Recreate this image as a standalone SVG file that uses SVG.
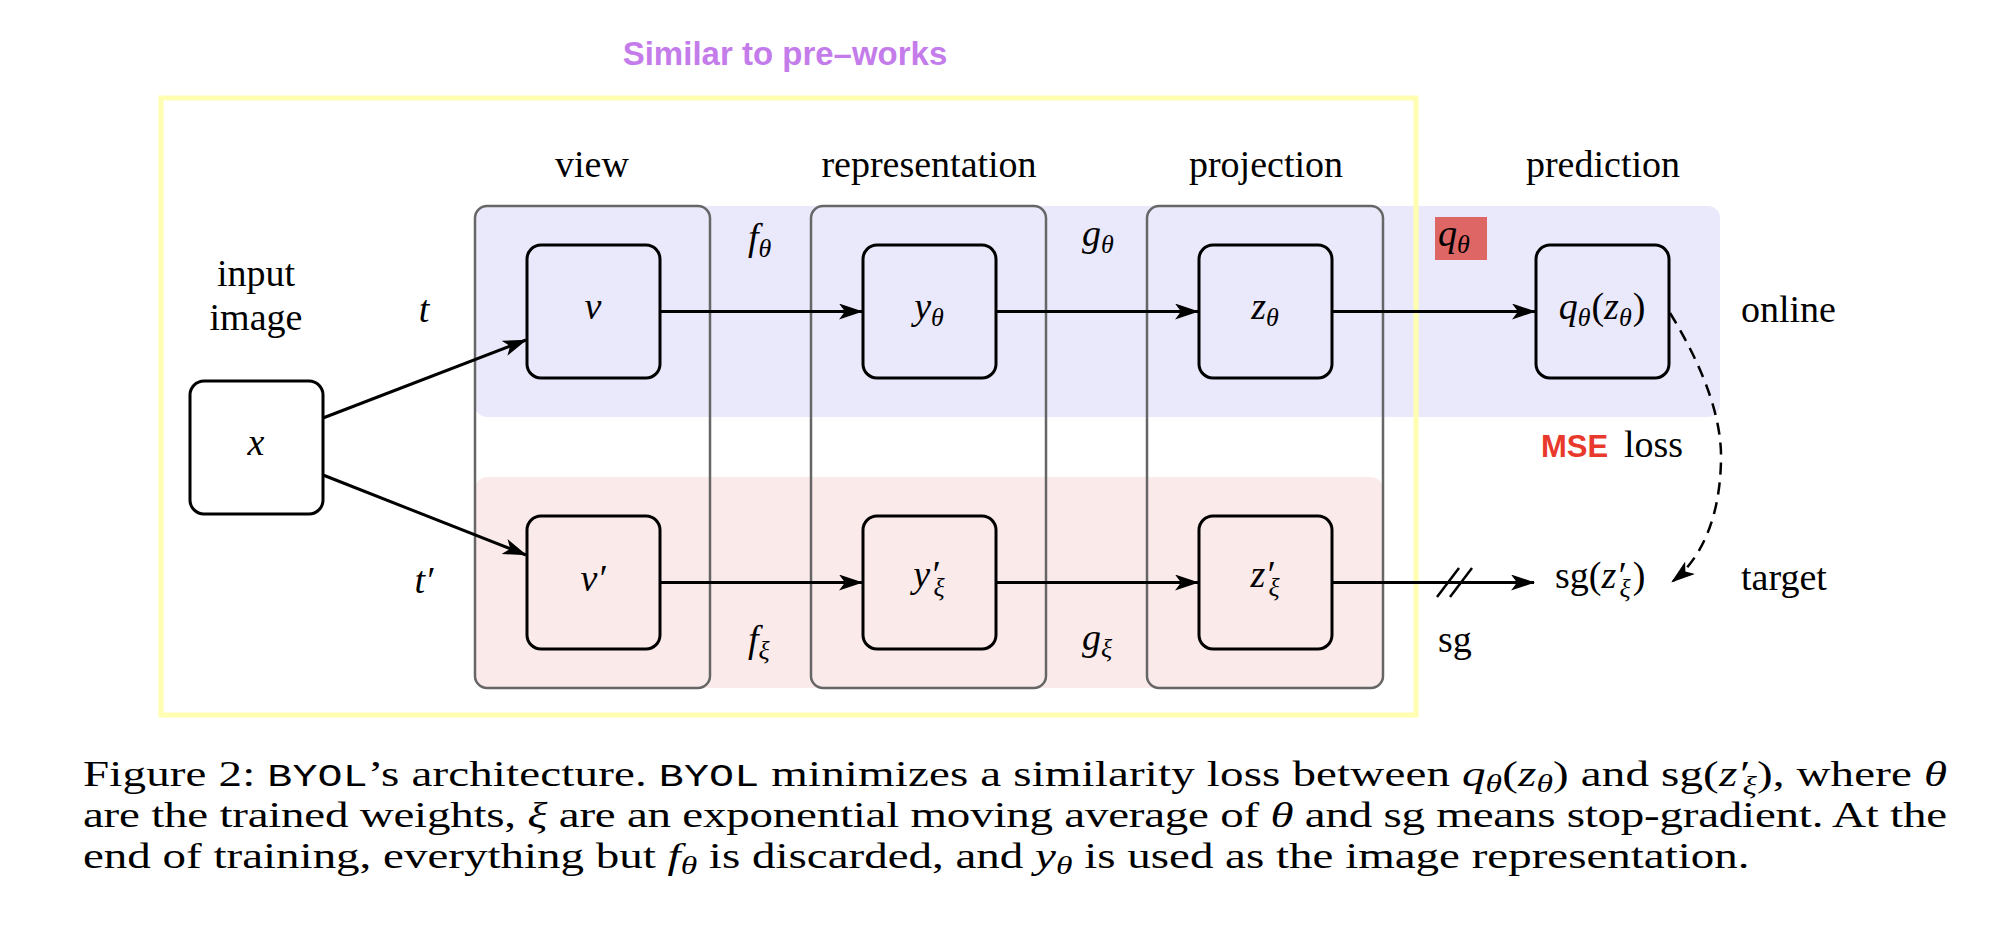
<svg xmlns="http://www.w3.org/2000/svg" width="2014" height="934" viewBox="0 0 2014 934">
<style>
  .t{font-family:"Liberation Serif","DejaVu Serif",serif;font-size:38px;fill:#000}
  .i{font-style:italic}
  .s{font-size:26px}
  .cs{font-size:25px}
  .tt{font-family:"Liberation Mono","DejaVu Sans Mono",monospace;font-size:31px}
  .cap{font-family:"Liberation Serif","DejaVu Serif",serif;font-size:35px;fill:#000}
  .node{fill:none;stroke:#000;stroke-width:3}
  .col{fill:none;stroke:#666;stroke-width:2.5}
  .edge{stroke:#000;stroke-width:3;fill:none;marker-end:url(#stealth)}
</style>
<defs>
  <marker id="stealth" viewBox="0 0 24 16" refX="23" refY="8" markerWidth="24" markerHeight="16" markerUnits="userSpaceOnUse" orient="auto">
    <path d="M0,0 L24,8 L0,16 L6,8 Z" fill="#000"/>
  </marker>
</defs>
<rect width="2014" height="934" fill="#fff"/>

<g id="bands">
  <rect x="475" y="206" width="1245" height="211" rx="12" fill="#EAE9FB"/>
  <rect x="475" y="477" width="908" height="211" rx="12" fill="#FBEAEA"/>
</g>

<g id="columns">
  <rect class="col" x="475" y="206" width="235" height="482" rx="12"/>
  <rect class="col" x="811" y="206" width="235" height="482" rx="12"/>
  <rect class="col" x="1147" y="206" width="236" height="482" rx="12"/>
</g>

<g id="prework-frame">
  <rect x="161" y="98" width="1255" height="617" fill="none" stroke="#FFFDB0" stroke-width="5"/>
  <text x="785" y="65" text-anchor="middle" style="font-family:'Liberation Sans',Arial,sans-serif;font-size:33px;font-weight:bold;fill:#C57CEB">Similar to pre–works</text>
</g>

<g id="headers" class="t" text-anchor="middle">
  <text class="t" x="592" y="177">view</text>
  <text class="t" x="929" y="177">representation</text>
  <text class="t" x="1266" y="177">projection</text>
  <text class="t" x="1603" y="177">prediction</text>
</g>

<g id="node-x">
  <rect class="node" x="190" y="381" width="133" height="133" rx="14"/>
  <text class="t i" x="256" y="455" text-anchor="middle">x</text>
  <text class="t" x="256" y="286" text-anchor="middle">input</text>
  <text class="t" x="256" y="330" text-anchor="middle">image</text>
</g>

<g id="node-v">
  <rect class="node" x="527" y="245" width="133" height="133" rx="14"/>
  <text class="t i" x="593" y="319" text-anchor="middle">v</text>
</g>
<g id="node-y">
  <rect class="node" x="863" y="245" width="133" height="133" rx="14"/>
  <text class="t" x="929" y="319" text-anchor="middle"><tspan class="i">y</tspan><tspan class="s i" dy="7">θ</tspan></text>
</g>
<g id="node-z">
  <rect class="node" x="1199" y="245" width="133" height="133" rx="14"/>
  <text class="t" x="1265" y="319" text-anchor="middle"><tspan class="i">z</tspan><tspan class="s i" dy="7">θ</tspan></text>
</g>
<g id="node-q">
  <rect class="node" x="1536" y="245" width="133" height="133" rx="14"/>
  <text class="t" x="1602" y="319" text-anchor="middle"><tspan class="i">q</tspan><tspan class="s i" dy="7">θ</tspan><tspan dx="1" dy="-7">(</tspan><tspan class="i">z</tspan><tspan class="s i" dy="7">θ</tspan><tspan dx="1" dy="-7">)</tspan></text>
</g>

<g id="node-v2">
  <rect class="node" x="527" y="516" width="133" height="133" rx="14"/>
  <text class="t i" x="593" y="591" text-anchor="middle">v′</text>
</g>
<g id="node-y2">
  <rect class="node" x="863" y="516" width="133" height="133" rx="14"/>
  <text class="t" x="929" y="587" text-anchor="middle"><tspan class="i">y′</tspan><tspan class="s i" dx="-5" dy="9">ξ</tspan></text>
</g>
<g id="node-z2">
  <rect class="node" x="1199" y="516" width="133" height="133" rx="14"/>
  <text class="t" x="1265" y="587" text-anchor="middle"><tspan class="i">z′</tspan><tspan class="s i" dx="-5" dy="9">ξ</tspan></text>
</g>
<g id="node-sg">
  <text class="t" x="1555" y="588">sg(<tspan class="i">z′</tspan><tspan class="s i" dx="-5" dy="9">ξ</tspan><tspan dx="2" dy="-9">)</tspan></text>
</g>

<g id="connectors">
  <line class="edge" x1="323" y1="418" x2="526" y2="340"/>
  <line class="edge" x1="323" y1="475" x2="526" y2="555"/>
  <line class="edge" x1="660" y1="311.5" x2="862" y2="311.5"/>
  <line class="edge" x1="996" y1="311.5" x2="1198" y2="311.5"/>
  <line class="edge" x1="1332" y1="311.5" x2="1535" y2="311.5"/>
  <line class="edge" x1="660" y1="582.5" x2="862" y2="582.5"/>
  <line class="edge" x1="996" y1="582.5" x2="1198" y2="582.5"/>
  <line class="edge" x1="1332" y1="582.5" x2="1534" y2="582.5"/>
  <line x1="1437" y1="597" x2="1459" y2="568" stroke="#000" stroke-width="2.5"/>
  <line x1="1450" y1="597" x2="1472" y2="568" stroke="#000" stroke-width="2.5"/>
  <path d="M1670,313 C1705,370 1722,420 1721,460 C1720,520 1700,560 1672,582" fill="none" stroke="#000" stroke-width="2.5" stroke-dasharray="12 8" marker-end="url(#stealth)"/>
</g>

<g id="edge-labels">
  <text class="t i" x="424" y="322" text-anchor="middle">t</text>
  <text class="t i" x="424" y="593" text-anchor="middle">t′</text>
  <text class="t" x="748" y="250"><tspan class="i">f</tspan><tspan class="s i" dy="7">θ</tspan></text>
  <text class="t" x="748" y="652"><tspan class="i">f</tspan><tspan class="s i" dy="7">ξ</tspan></text>
  <text class="t" x="1082" y="246"><tspan class="i">g</tspan><tspan class="s i" dy="7">θ</tspan></text>
  <text class="t" x="1082" y="650"><tspan class="i">g</tspan><tspan class="s i" dy="7">ξ</tspan></text>
  <rect x="1435" y="217" width="52" height="43" fill="#DE6766"/>
  <text class="t" x="1438" y="246"><tspan class="i">q</tspan><tspan class="s i" dy="7">θ</tspan></text>
  <text class="t" x="1438" y="652">sg</text>
  <text x="1541" y="457" style="font-family:'Liberation Sans',Arial,sans-serif;font-size:31px;font-weight:bold;fill:#E8392C">MSE</text>
  <text class="t" x="1624" y="457">loss</text>
  <text class="t" x="1741" y="322">online</text>
  <text class="t" x="1741" y="590">target</text>
</g>

<g id="caption" transform="translate(83 0) scale(1.343 1)">
  <text class="cap" x="0" y="786" textLength="1388" lengthAdjust="spacing">Figure 2: <tspan class="tt">BYOL</tspan>’s architecture. <tspan class="tt">BYOL</tspan> minimizes a similarity loss between <tspan class="i">q</tspan><tspan class="cs i" dy="6">θ</tspan><tspan dy="-6">(</tspan><tspan class="i">z</tspan><tspan class="cs i" dy="6">θ</tspan><tspan dy="-6">) and sg(</tspan><tspan class="i">z′</tspan><tspan class="cs i" dx="-4" dy="8">ξ</tspan><tspan dy="-8">), where </tspan><tspan class="i">θ</tspan></text>
  <text class="cap" x="0" y="827" textLength="1388" lengthAdjust="spacing">are the trained weights, <tspan class="i">ξ</tspan> are an exponential moving average of <tspan class="i">θ</tspan> and sg means stop-gradient. At the</text>
  <text class="cap" x="0" y="868">end of training, everything but <tspan class="i">f</tspan><tspan class="cs i" dy="6">θ</tspan><tspan dy="-6"> is discarded, and </tspan><tspan class="i">y</tspan><tspan class="cs i" dy="6">θ</tspan><tspan dy="-6"> is used as the image representation.</tspan></text>
</g>
</svg>
